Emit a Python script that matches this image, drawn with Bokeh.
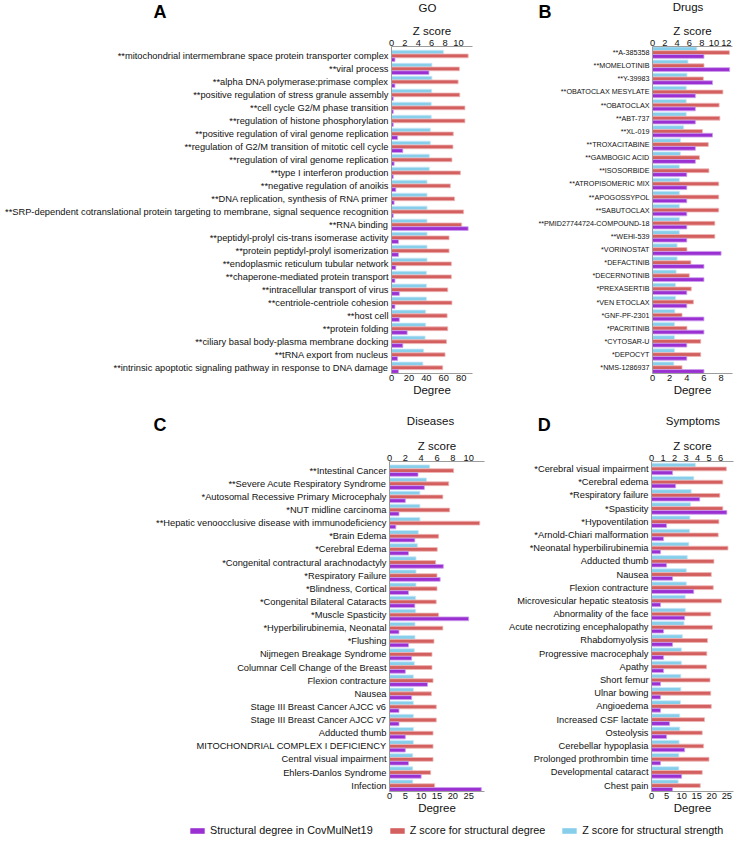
from bokeh.plotting import figure
from bokeh.models import (Range1d, LinearAxis, FixedTicker, Label, Legend, LegendItem,
                          ColumnDataSource)
from bokeh.layouts import column, row
from bokeh.transform import dodge
from bokeh.embed import file_html
from bokeh.resources import INLINE

# ---------------- data ----------------
go_terms = [
    "**mitochondrial intermembrane space protein transporter complex",
    "**viral process",
    "**alpha DNA polymerase:primase complex",
    "**positive regulation of stress granule assembly",
    "**cell cycle G2/M phase transition",
    "**regulation of histone phosphorylation",
    "**positive regulation of viral genome replication",
    "**regulation of G2/M transition of mitotic cell cycle",
    "**regulation of viral genome replication",
    "**type I interferon production",
    "**negative regulation of anoikis",
    "**DNA replication, synthesis of RNA primer",
    "**SRP-dependent cotranslational protein targeting to membrane, signal sequence recognition",
    "**RNA binding",
    "**peptidyl-prolyl cis-trans isomerase activity",
    "**protein peptidyl-prolyl isomerization",
    "**endoplasmic reticulum tubular network",
    "**chaperone-mediated protein transport",
    "**intracellular transport of virus",
    "**centriole-centriole cohesion",
    "**host cell",
    "**protein folding",
    "**ciliary basal body-plasma membrane docking",
    "**tRNA export from nucleus",
    "**intrinsic apoptotic signaling pathway in response to DNA damage",
]
go_z_strength = [7.75, 6.04, 6.04, 6.0, 5.94, 5.94, 5.8, 5.8, 5.65, 5.65, 5.31, 5.31, 5.31,
                 5.31, 5.31, 5.31, 5.31, 5.22, 5.22, 5.22, 5.1, 5.1, 5.02, 4.8, 4.69]
go_z_degree = [11.45, 10.14, 9.95, 10.2, 10.97, 10.97, 9.23, 9.18, 9.03, 10.29, 8.79, 9.42, 10.77,
               10.48, 8.6, 8.6, 8.94, 8.94, 8.4, 9.03, 8.31, 8.4, 8.21, 8.0, 7.65]
go_degree = [4, 43, 4, 2, 2, 2, 7, 13, 3, 2, 5, 3, 2, 88, 8, 8, 5, 4, 9, 4, 9, 18, 13, 7, 8]

drug_names = [
    "**A-385358", "**MOMELOTINIB", "**Y-39983", "**OBATOCLAX MESYLATE", "**OBATOCLAX",
    "**ABT-737", "**XL-019", "**TROXACITABINE", "**GAMBOGIC ACID", "**ISOSORBIDE",
    "**ATROPISOMERIC MIX", "**APOGOSSYPOL", "**SABUTOCLAX", "**PMID27744724-COMPOUND-18",
    "**WEHI-539", "*VORINOSTAT", "*DEFACTINIB", "*DECERNOTINIB", "*PREXASERTIB",
    "*VEN ETOCLAX", "*GNF-PF-2301", "*PACRITINIB", "*CYTOSAR-U", "*DEPOCYT", "*NMS-1286937",
]
drug_z_strength = [7.2, 5.77, 5.6, 5.48, 5.48, 5.48, 5.07, 4.54, 4.54, 4.37, 4.37, 4.37, 4.37,
                   4.37, 4.37, 4.0, 4.0, 3.84, 3.74, 3.74, 3.63, 3.58, 3.58, 3.58, 3.47]
drug_z_degree = [12.5, 8.37, 8.26, 11.44, 10.83, 10.95, 8.11, 9.07, 7.63, 9.17, 10.76, 10.76,
                 10.76, 10.13, 10.13, 5.6, 6.24, 5.98, 6.3, 6.65, 4.8, 5.6, 7.84, 7.84, 4.8]
drug_degree = [6, 9, 7, 5, 5, 5, 7, 5, 5, 4, 4, 4, 4, 4, 4, 8, 6, 6, 4, 4, 6, 6, 4, 4, 6]

disease_names = [
    "**Intestinal Cancer", "**Severe Acute Respiratory Syndrome",
    "*Autosomal Recessive Primary Microcephaly", "*NUT midline carcinoma",
    "**Hepatic venoocclusive disease with immunodeficiency", "*Brain Edema", "*Cerebral Edema",
    "*Congenital contractural arachnodactyly", "*Respiratory Failure", "*Blindness, Cortical",
    "*Congenital Bilateral Cataracts", "*Muscle Spasticity", "*Hyperbilirubinemia, Neonatal",
    "*Flushing", "Nijmegen Breakage Syndrome", "Columnar Cell Change of the Breast",
    "Flexion contracture", "Nausea", "Stage III Breast Cancer AJCC v6",
    "Stage III Breast Cancer AJCC v7", "Adducted thumb", "MITOCHONDRIAL COMPLEX I DEFICIENCY",
    "Central visual impairment", "Ehlers-Danlos Syndrome", "Infection",
]
disease_z_strength = [5.08, 4.67, 3.84, 3.84, 3.84, 3.64, 3.52, 3.35, 3.35, 3.35, 3.3, 3.3, 3.22,
                      3.22, 3.14, 3.14, 3.02, 3.02, 3.02, 3.02, 3.02, 3.02, 2.94, 2.94, 2.94]
disease_z_degree = [8.1, 7.48, 6.74, 7.6, 11.4, 6.2, 6.03, 5.83, 6.0, 6.0, 5.9, 6.2, 6.74, 5.62,
                    5.37, 5.37, 5.5, 5.29, 5.91, 5.91, 5.5, 5.5, 5.5, 5.2, 5.7]
disease_degree = [9, 11, 5, 3, 2, 8, 6, 17, 16, 6, 8, 25, 3, 6, 7, 5, 12, 7, 3, 3, 5, 5, 6, 10, 29]

symptom_names = [
    "*Cerebral visual impairment", "*Cerebral edema", "*Respiratory failure", "*Spasticity",
    "*Hypoventilation", "*Arnold-Chiari malformation", "*Neonatal hyperbilirubinemia",
    "Adducted thumb", "Nausea", "Flexion contracture", "Microvesicular hepatic steatosis",
    "Abnormality of the face", "Acute necrotizing encephalopathy", "Rhabdomyolysis",
    "Progressive macrocephaly", "Apathy", "Short femur", "Ulnar bowing", "Angioedema",
    "Increased CSF lactate", "Osteolysis", "Cerebellar hypoplasia", "Prolonged prothrombin time",
    "Developmental cataract", "Chest pain",
]
symptom_z_strength = [3.82, 3.68, 3.45, 3.4, 3.34, 3.31, 3.25, 3.11, 3.03, 3.03, 2.94, 2.94, 2.83,
                      2.69, 2.6, 2.6, 2.55, 2.55, 2.52, 2.46, 2.46, 2.4, 2.38, 2.38, 2.32]
symptom_z_degree = [6.51, 6.2, 5.94, 6.2, 5.86, 5.8, 6.65, 5.43, 5.2, 5.37, 6.08, 5.15, 5.29, 4.87,
                    4.81, 4.78, 5.09, 5.15, 5.2, 4.61, 4.41, 4.53, 5.0, 4.41, 4.24]
symptom_degree = [7, 8, 16, 25, 5, 4, 3, 5, 7, 14, 3, 11, 4, 7, 4, 4, 3, 3, 3, 6, 5, 11, 3, 10, 7]

legend_labels = ["Structural degree in CovMulNet19", "Z score for structural degree",
                 "Z score for structural strength"]

# ---------------- style ----------------
FONT = "Liberation Sans"
BLUE, RED, PURPLE = "#87CEEB", "#D35F5F", "#9B30D2"
BLUE_EDGE, RED_EDGE, PURPLE_EDGE = "#c9e9f7", "#efb6b6", "#cda0ec"
GREY = "#9c9c9c"
INK = "#111111"


def style_axis(ax, size="9.3px"):
    ax.axis_line_color = GREY
    ax.axis_line_width = 1
    ax.major_tick_line_color = GREY
    ax.minor_tick_line_color = None
    ax.major_label_text_font = FONT
    ax.major_label_text_font_size = size
    ax.major_label_text_color = INK
    ax.axis_label_text_font = FONT
    ax.axis_label_text_font_size = "11.5px"
    ax.axis_label_text_font_style = "normal"
    ax.axis_label_text_color = INK


def make_panel(labels, zstr, zdeg, deg, zmax, dmax, zticks, dticks,
               width, height, left, right, top, bottom, pad_top, label_size):
    n = len(labels)
    ypos = list(range(n - 1, -1, -1))
    src = ColumnDataSource(dict(y=ypos, zstr=zstr, zdeg=zdeg, deg=deg))
    p = figure(width=width, height=height, x_range=Range1d(0, zmax),
               y_range=Range1d(-0.445, n - 1 + 0.435 + pad_top),
               x_axis_location="above", output_backend="svg", toolbar_location=None,
               min_border_left=left, min_border_right=right, min_border_top=top,
               min_border_bottom=bottom, outline_line_color=None)
    p.extra_x_ranges = {"deg": Range1d(0, dmax)}
    h = 0.29
    p.hbar(y=dodge("y", 0.29), left=0, right="zstr", height=h, source=src,
           fill_color=BLUE, line_color=BLUE_EDGE, line_width=0.8)
    p.hbar(y="y", left=0, right="zdeg", height=h, source=src,
           fill_color=RED, line_color=RED_EDGE, line_width=0.8)
    p.hbar(y=dodge("y", -0.29), left=0, right="deg", height=h, source=src,
           fill_color=PURPLE, line_color=PURPLE_EDGE, line_width=0.8, x_range_name="deg")

    top_ax = p.xaxis[0]
    top_ax.ticker = FixedTicker(ticks=zticks)
    top_ax.axis_label = "Z score"
    style_axis(top_ax)
    top_ax.major_tick_out = 0
    top_ax.major_tick_in = 0
    top_ax.major_label_standoff = 1
    top_ax.axis_label_standoff = 0

    bot_ax = LinearAxis(x_range_name="deg", ticker=FixedTicker(ticks=dticks), axis_label="Degree")
    style_axis(bot_ax)
    bot_ax.major_tick_out = 0
    bot_ax.major_tick_in = 0
    bot_ax.major_label_standoff = 1
    bot_ax.axis_label_standoff = 0
    p.add_layout(bot_ax, "below")

    yax = p.yaxis[0]
    yax.ticker = FixedTicker(ticks=ypos)
    yax.major_label_overrides = {y: lab for y, lab in zip(ypos, labels)}
    style_axis(yax, label_size)
    yax.major_tick_out = 0
    yax.major_tick_in = 0
    yax.major_label_standoff = 3

    p.xgrid.visible = False
    p.ygrid.visible = False
    return p


def strip(width, height, letter, letter_xy, title, title_xy):
    """Header strip (panel letter + panel title), coordinates in pixels, y downwards."""
    s = figure(width=width, height=height, output_backend="svg", toolbar_location=None,
               min_border=0, outline_line_color=None,
               x_range=Range1d(0, width), y_range=Range1d(height, 0))
    s.axis.visible = False
    s.grid.visible = False
    s.add_layout(Label(x=letter_xy[0], y=letter_xy[1], text=letter, text_font=FONT,
                       text_font_size="18px", text_font_style="bold", text_align="center",
                       text_baseline="middle", text_color="#000000"))
    s.add_layout(Label(x=title_xy[0], y=title_xy[1], text=title, text_font=FONT,
                       text_font_size="11.5px", text_align="center", text_baseline="middle",
                       text_color=INK))
    return s


pA = make_panel(go_terms, go_z_strength, go_z_degree, go_degree,
                12.1, 93, [0, 2, 4, 6, 8, 10], [0, 20, 40, 60, 80],
                500, 382, 391, 28, 23, 30, 0.29, "9.3px")
pB = make_panel(drug_names, drug_z_strength, drug_z_degree, drug_degree,
                13.0, 9.33, [0, 2, 4, 6, 8, 10, 12], [0, 2, 4, 6, 8],
                235, 382, 152, 3, 25, 29, 0.03, "7.2px")
pC = make_panel(disease_names, disease_z_strength, disease_z_degree,
                disease_degree, 12.0, 30, [0, 2, 4, 6, 8, 10], [0, 5, 10, 15, 20, 25],
                500, 381, 389, 16, 26, 25, 0.26, "9.3px")
pD = make_panel(symptom_names, symptom_z_strength, symptom_z_degree,
                symptom_degree, 7.13, 27.2, [0, 1, 2, 3, 4, 5, 6], [0, 5, 10, 15, 20, 25],
                235, 381, 151, 2, 25, 25, 0.13, "9.3px")

sA = strip(500, 21, "A", (159.4, 11.0), "GO", (427, 7.0))
sB = strip(235, 21, "B", (44.4, 11.0), "Drugs", (187.5, 6.5))
sC = strip(500, 32, "C", (159.4, 21.5), "Diseases", (430, 17.5))
sD = strip(235, 32, "D", (43.8, 21.8), "Symptoms", (192.4, 17.5))

# ---------------- legend strip ----------------
lf = figure(width=735, height=22, output_backend="svg", toolbar_location=None, min_border=0,
            outline_line_color=None, x_range=Range1d(0, 1), y_range=Range1d(0, 1))
lf.axis.visible = False
lf.grid.visible = False
rs = []
for col in (PURPLE, RED, BLUE):
    dummy = ColumnDataSource(dict(y=[-5], left=[0], right=[0]))
    rs.append(lf.hbar(y="y", left="left", right="right", height=0.5, source=dummy,
                      fill_color=col, line_color=None))
leg = Legend(items=[LegendItem(label=t, renderers=[r]) for t, r in zip(legend_labels, rs)],
             orientation="horizontal", location=(188, 2), glyph_width=18, glyph_height=7,
             label_standoff=4, spacing=15, padding=0, margin=0, border_line_color=None,
             background_fill_alpha=0, label_text_font=FONT, label_text_font_size="10.8px",
             label_text_color=INK, label_height=12)
lf.add_layout(leg)

layout = column(row(sA, sB), row(pA, pB), row(sC, sD), row(pC, pD), lf)
open("out.html", "w").write(file_html(layout, INLINE))
